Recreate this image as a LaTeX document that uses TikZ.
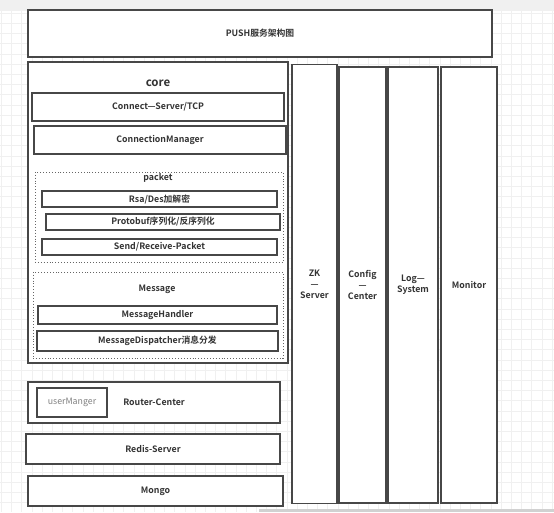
\documentclass[tikz,border=0pt]{standalone}
\usepackage{fontspec}
\setmainfont{Noto Sans CJK SC}[BoldFont={Noto Sans CJK SC Bold}]
\begin{document}
\begin{tikzpicture}[x=1pt,y=-1pt,
  box/.style={draw=black!72, line width=1.1pt, fill=white, inner sep=0pt, rectangle, font=\bfseries\fontsize{8.8}{11}\selectfont, text=black!80},
  dotbox/.style={draw=black!60, dotted, line width=0.9pt, fill=white, inner sep=0pt, rectangle},
  lbl/.style={font=\bfseries\fontsize{8.8}{11}\selectfont, text=black!80, inner sep=0pt},
  gridline/.style={draw=black!6, line width=0.6pt}]
\useasboundingbox (0,0) rectangle (554,512);
\fill[white] (0,0) rectangle (554,512);
\foreach \i in {0,...,54} {\draw[gridline] (1.2+\i*10.2,11) -- (1.2+\i*10.2,512);}
\foreach \j in {0,...,49} {\draw[gridline] (0,13+\j*10.2) -- (554,13+\j*10.2);}
\fill[black!6] (0,0) rectangle (554,11);
\fill[black!18] (259,509) rectangle (554,512);
% title
\node[box, minimum width=464, minimum height=47] (title) at (260,33.5) {PUSH服务架构图};
% core
\node[box, minimum width=260, minimum height=301] (core) at (158,212.5) {};
\node[lbl, font=\fontsize{11.5}{13}\selectfont\bfseries] (corelbl) at (158,83) {core};
\node[box, minimum width=252, minimum height=28] (conn) at (158,107) {Connect—Server/TCP};
\node[box, minimum width=252, minimum height=28] (cm) at (160,140) {ConnectionManager};
\node[dotbox, minimum width=248, minimum height=90] (packet) at (159,217) {};
\node[lbl] (packetlbl) at (158,178) {packet};
\node[box, minimum width=235, minimum height=16] (rsa) at (159.5,199) {Rsa/Des加解密};
\node[box, minimum width=234, minimum height=16] (proto) at (163,222) {Protobuf序列化/反序列化};
\node[box, minimum width=235, minimum height=16] (send) at (159.5,247) {Send/Receive-Packet};
\node[dotbox, minimum width=250, minimum height=86] (message) at (158,315) {};
\node[lbl] (messagelbl) at (157,289) {Message};
\node[box, minimum width=239, minimum height=18] (mh) at (157.5,315) {MessageHandler};
\node[box, minimum width=241, minimum height=20] (md) at (157.5,341) {MessageDispatcher消息分发};
% lower
\node[box, minimum width=252, minimum height=41] (router) at (154,402.5) {Router-Center};
\node[box, minimum width=70, minimum height=29, font=\fontsize{8.8}{11}\selectfont, text=black!50] (um) at (72,402.5) {userManger};
\node[box, minimum width=254, minimum height=30] (redis) at (153,449) {Redis-Server};
\node[box, minimum width=255, minimum height=30] (mongo) at (155.5,491) {Mongo};
% columns
\node[box, minimum width=45, minimum height=439, align=center] (zk) at (314.5,284) {ZK\\—\\Server};
\node[box, minimum width=47, minimum height=436, align=center] (config) at (362.5,285) {Config\\—\\Center};
\node[box, minimum width=50, minimum height=436, align=center] (log) at (413,285) {Log—\\System};
\node[box, minimum width=56, minimum height=436] (monitor) at (469,285) {Monitor};
\end{tikzpicture}
\end{document}
